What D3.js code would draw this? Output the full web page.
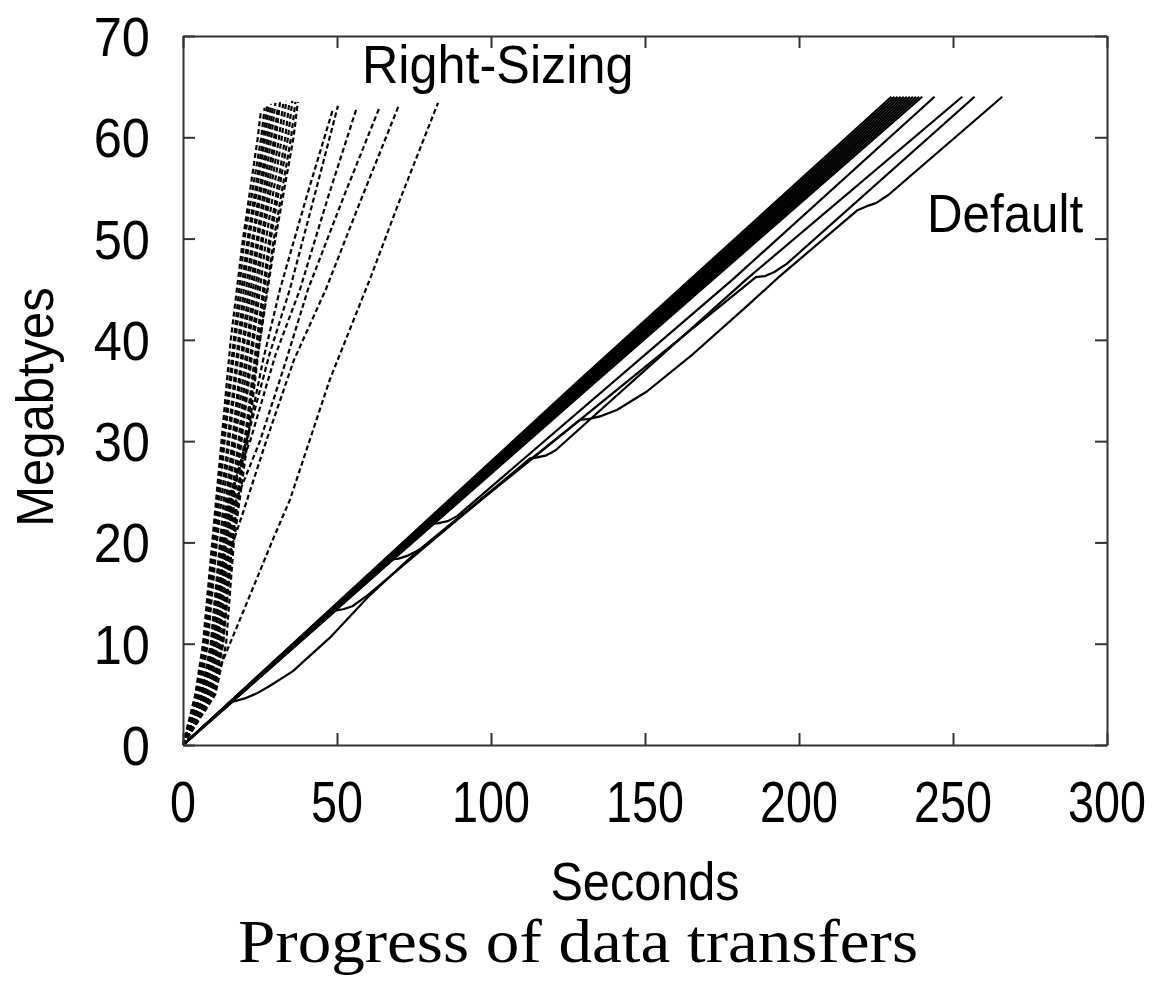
<!DOCTYPE html>
<html><head><meta charset="utf-8">
<script src="https://cdn.jsdelivr.net/npm/d3@7"></script>
<style>body{margin:0;background:#fff}</style>
</head><body>
<svg id="chart" width="1158" height="1003"></svg>
<script>
// ---------- data ----------
const xTicks = [0, 50, 100, 150, 200, 250, 300];
const yTicks = [0, 10, 20, 30, 40, 50, 60, 70];
const xLabel = "Seconds";
const yLabel = "Megabtyes";
const title = "Progress of data transfers";
const rsLabel = "Right-Sizing";
const defLabel = "Default";

// Default TCP runs (solid): [seconds, megabytes]
const def1 = [[0,0],[62.8,17.6],[128.6,36],[230,64]];
const def2 = [[0,0],[63.1,17.6],[129.3,36],[231,64]];
const def3 = [[0,0],[63.4,17.6],[129.9,36],[232,64]];
const def4 = [[0,0],[63.6,17.6],[130.4,36],[233,64]];
const def5 = [[0,0],[63.9,17.6],[131.0,36],[234,64]];
const def6 = [[0,0],[64.2,17.6],[131.6,36],[235,64]];
const def7 = [[0,0],[64.5,17.6],[132.2,36],[236,64]];
const def8 = [[0,0],[64.8,17.6],[132.7,36],[237,64]];
const def9 = [[0,0],[65.0,17.6],[133.3,36],[238,64]];
const def10 = [[0,0],[65.3,17.6],[133.9,36],[239,64]];
const def11 = [[0,0],[65.6,17.6],[134.5,36],[240,64]];
const def12 = [[0,0],[80,21.8],[83,21.9],[86,22.1],[89,22.6],[178.6,46],[244,64]];
const def13 = [[0,0],[49.7,13.3],[52,13.4],[55,13.7],[60,14.8],[112.7,28.3],[115,28.4],[118,28.6],[121,29.1],[183,46],[253,64]];
const def14 = [[0,0],[67,18.3],[70,18.4],[73,18.7],[77,19.3],[186,46.2],[189,46.3],[192,46.7],[196,47.5],[257,64]];
const def15 = [[0,0],[16,4.25],[20,4.6],[24,5.1],[28,5.8],[35.7,7.3],[47.7,10.6],[60.7,14.8],[75.6,19],[96.4,24.2],[128.9,32.1],[132,32.2],[136,32.5],[141,33.1],[150.6,34.9],[165.6,38.6],[183,43.3],[193.8,46.3],[219,52.8],[222,53.2],[225,53.5],[229,54.3],[266,64]];
const defaultRuns = [def1, def2, def3, def4, def5, def6, def7, def8, def9, def10, def11, def12, def13, def14, def15];

// Right-Sizing runs (dashed): [seconds, megabytes]
const rs1 = [[0,0],[4,5],[6.5,10],[9.5,20],[12.5,30],[15.5,40],[19.5,50],[24.3,60],[25.3,62.6]];
const rs2 = [[0,0],[4.5,5],[7,10],[10,20],[13,30],[16.5,40],[20,50],[25.4,60],[26.5,62.9]];
const rs3 = [[0,0],[5,5],[7.5,10],[10.5,20],[13.5,30],[17,40],[21,50],[26.1,60],[27.3,63.2]];
const rs4 = [[0,0],[5.5,5],[8,10],[11,20],[14.5,30],[18,40],[21.5,50],[26.7,60],[27.8,63]];
const rs5 = [[0,0],[6,5],[9,10],[12,20],[15,30],[18.5,40],[22.5,50],[27.4,60],[28.6,63.3]];
const rs6 = [[0,0],[6.5,5],[9.5,10],[12.5,20],[16,30],[19.5,40],[23,50],[28,60],[29.2,63.1]];
const rs7 = [[0,0],[7,5],[10,10],[13,20],[16.5,30],[20,40],[24,50],[28.7,60],[30,63.4]];
const rs8 = [[0,0],[7.5,5],[10.5,10],[13.5,20],[17,30],[21,40],[24.5,50],[29.6,60],[30.8,63]];
const rs9 = [[0,0],[8,5],[11,10],[14,20],[18,30],[21.5,40],[25.5,50],[30.2,60],[31.5,63.5]];
const rs10 = [[0,0],[8.5,5],[11.5,10],[14.5,20],[18.5,30],[22.5,40],[26,50],[31.2,60],[32.5,63.3]];
const rs11 = [[0,0],[9,5],[12,10],[15,20],[19,30],[23,40],[27,50],[32.1,60],[33.5,63.6]];
const rs12 = [[0,0],[9.5,5],[12.5,10],[15.5,20],[20,30],[24,40],[28,50],[33.2,60],[34.5,63.4]];
const rs13 = [[0,0],[10,5],[13,10],[16,20],[20.5,30],[24.5,40],[28.5,50],[34.1,60],[35.5,63.6]];
const rs14 = [[0,0],[10.5,5],[14,10],[16.5,20],[21,30],[25,40],[29.5,50],[35.1,60],[36.5,63.5]];
const rs15 = [[0,0],[9,5],[13,10],[16,20],[20,30],[25,40],[30,50],[35.9,60],[37.3,63.5]];
const rs16 = [[0,0],[6,5],[10,10],[13.5,20],[16,25],[21,30.5],[26,38],[31.5,45],[40,54],[48.5,62.6]];
const rs17 = [[0,0],[7,5],[11,10],[14,20],[17,26],[21.5,31],[28,38.5],[34.7,45],[42.5,54],[50.3,63.1]];
const rs18 = [[0,0],[6,5],[9.5,10],[12.5,20],[15.5,25],[21.8,30],[30,38.5],[38,45],[47,54],[56.5,63]];
const rs19 = [[0,0],[7,5],[10.5,10],[13.5,20],[17,24],[25,30],[33,37.5],[40.6,45],[52,54],[63.6,62.8]];
const rs20 = [[0,0],[8,5],[11.5,10],[14,18],[19,22.5],[27,30],[36,38],[46.4,45],[58,54],[70,63.1]];
const rs21 = [[0,0],[6,4.5],[10.3,6.4],[20,13.5],[29.2,20.3],[34.7,24.2],[47.7,36.1],[60.7,46],[70,53.5],[82.8,63.4]];
const rsRuns = [rs1, rs2, rs3, rs4, rs5, rs6, rs7, rs8, rs9, rs10, rs11, rs12, rs13, rs14, rs15, rs16, rs17, rs18, rs19, rs20, rs21];

// ---------- layout ----------
const svg = d3.select("#chart");
const mLeft = 183, mRight = 1107, mTop = 36, mBottom = 745;
const x = d3.scaleLinear().domain([0, 300]).range([mLeft, mRight]);
const y = d3.scaleLinear().domain([0, 70]).range([mBottom, mTop]);
const frameColor = "#333";

svg.append("rect").attr("width", 1158).attr("height", 1003).attr("fill", "#fff");

const line = d3.line().x(d => x(d[0])).y(d => y(d[1])).curve(d3.curveLinear);

// data lines
svg.append("g").selectAll("path").data(defaultRuns).join("path")
  .attr("d", line).attr("fill", "none").attr("stroke", "#000").attr("stroke-width", 2.2)
  .attr("stroke-linejoin", "round");
svg.append("g").selectAll("path").data(rsRuns).join("path")
  .attr("d", line).attr("fill", "none").attr("stroke", "#000").attr("stroke-width", 2.2)
  .attr("stroke-dasharray", "5,3");

// axes (ticks inward on all four sides)
function styleAxis(g) {
  g.selectAll("path.domain").attr("stroke", frameColor).attr("stroke-width", 2);
  g.selectAll(".tick line").attr("stroke", frameColor).attr("stroke-width", 2);
  g.selectAll(".tick text").remove();
}
svg.append("g").attr("transform", `translate(0,${mBottom})`)
  .call(d3.axisBottom(x).tickValues(xTicks).tickSizeInner(-12).tickSizeOuter(0)).call(styleAxis);
svg.append("g").attr("transform", `translate(0,${mTop})`)
  .call(d3.axisTop(x).tickValues(xTicks).tickSizeInner(-12).tickSizeOuter(0)).call(styleAxis);
svg.append("g").attr("transform", `translate(${mLeft},0)`)
  .call(d3.axisLeft(y).tickValues(yTicks).tickSizeInner(-12).tickSizeOuter(0)).call(styleAxis);
svg.append("g").attr("transform", `translate(${mRight},0)`)
  .call(d3.axisRight(y).tickValues(yTicks).tickSizeInner(-12).tickSizeOuter(0)).call(styleAxis);

const sans = "'Liberation Sans', Arial, sans-serif";
// tick labels
svg.append("g").selectAll("text").data(xTicks).join("text")
  .attr("transform", d => `translate(${x(d)},822) scale(0.82,1)`)
  .attr("text-anchor", "middle").attr("font-family", sans).attr("font-size", 57)
  .attr("fill", "#000").text(d => d);
svg.append("g").selectAll("text").data(yTicks).join("text")
  .attr("transform", d => `translate(150,${y(d) + 20}) scale(0.92,1)`)
  .attr("text-anchor", "end").attr("font-family", sans).attr("font-size", 55)
  .attr("fill", "#000").text(d => d);

// axis titles
svg.append("text").attr("transform", "translate(645,900) scale(0.9,1)")
  .attr("text-anchor", "middle").attr("font-family", sans).attr("font-size", 54).text(xLabel);
svg.append("text").attr("transform", "translate(53,407) rotate(-90) scale(0.96,1)")
  .attr("text-anchor", "middle").attr("font-family", sans).attr("font-size", 51).text(yLabel);

// annotations
svg.append("text").attr("transform", "translate(362,83) scale(0.95,1)")
  .attr("font-family", sans).attr("font-size", 53).text(rsLabel);
svg.append("text").attr("transform", "translate(927,232) scale(0.93,1)")
  .attr("font-family", sans).attr("font-size", 53).text(defLabel);

// caption
svg.append("text").attr("x", 578).attr("y", 962).attr("text-anchor", "middle")
  .attr("font-family", "'Liberation Serif', 'Times New Roman', serif").attr("font-size", 62)
  .attr("textLength", 680).attr("lengthAdjust", "spacingAndGlyphs").text(title);
</script>
</body></html>
